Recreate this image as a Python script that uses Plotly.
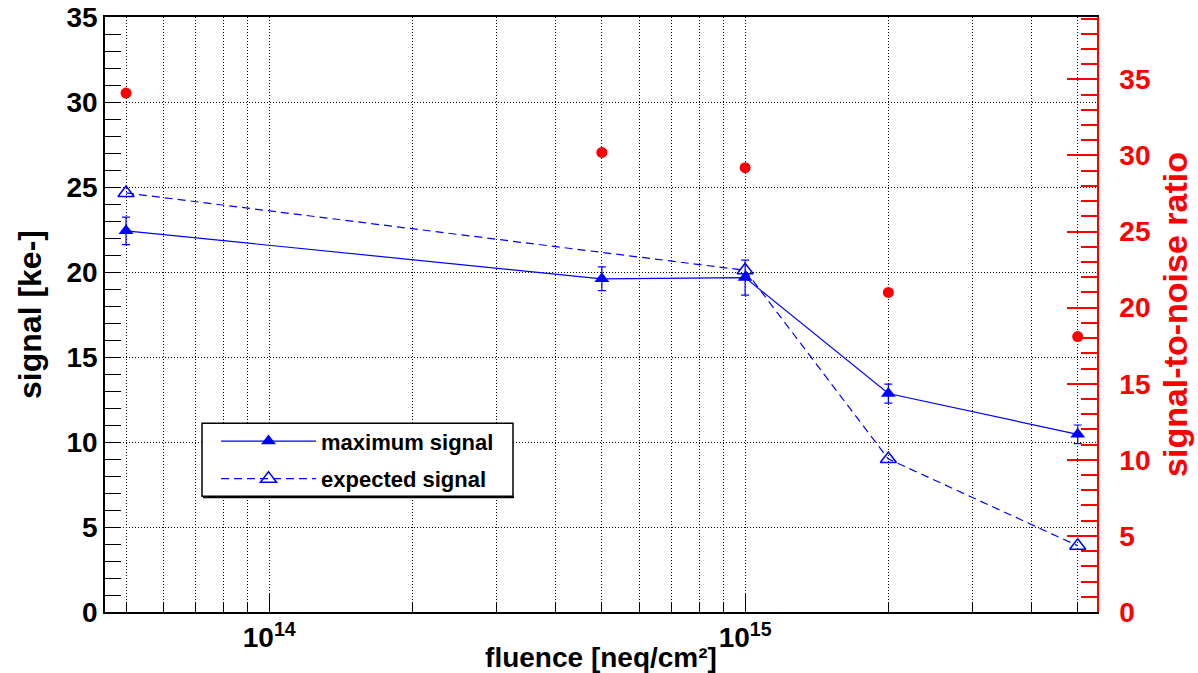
import plotly.graph_objects as go

# ---- data ----
fluence = [5e13, 5e14, 1e15, 2e15, 5e15]
max_signal = [22.42, 19.6, 19.67, 12.85, 10.45]
max_signal_err = [0.81, 0.7, 1.03, 0.56, 0.55]
exp_fluence = [5e13, 1e15, 2e15, 5e15]
exp_signal = [24.65, 20.1, 9.0, 3.9]
snr = [34.1, 30.2, 29.2, 21.0, 18.1]

x_major = [1e14, 1e15]
x_major_text = ["10<sup>14</sup>", "10<sup>15</sup>"]
x_minor = [5e13, 6e13, 7e13, 8e13, 9e13,
           2e14, 3e14, 4e14, 5e14, 6e14, 7e14, 8e14, 9e14,
           2e15, 3e15, 4e15, 5e15]
y_ticks = [0, 5, 10, 15, 20, 25, 30, 35]
y2_ticks = [0, 5, 10, 15, 20, 25, 30, 35]

FONT = "Liberation Sans, Arial, Helvetica, sans-serif"
BLUE = "#0000ff"
RED = "#ff0000"

fig = go.Figure()

fig.add_trace(go.Scatter(
    x=fluence, y=max_signal, name="maximum signal", mode="lines+markers",
    line=dict(color=BLUE, width=1.2),
    marker=dict(symbol="triangle-up", size=13, color=BLUE),
    error_y=dict(type="data", array=max_signal_err, color=BLUE, thickness=1.2, width=4),
    legendgroup="a",
))
fig.add_trace(go.Scatter(
    x=exp_fluence, y=exp_signal, name="expected signal", mode="lines+markers",
    line=dict(color=BLUE, width=1.2, dash="8px,5px"),
    marker=dict(symbol="triangle-up-open", size=14, color=BLUE, line=dict(width=1.5, color=BLUE)),
    legendgroup="b",
))
fig.add_trace(go.Scatter(
    x=fluence, y=snr, name="signal-to-noise ratio", mode="markers",
    marker=dict(symbol="circle", size=11, color=RED),
    yaxis="y2", showlegend=False,
))

grid = dict(gridcolor="black", gridwidth=1, griddash="1px,2px")

fig.update_layout(
    width=1198, height=673,
    margin=dict(l=105, r=101, t=17, b=61, autoexpand=False),
    paper_bgcolor="white", plot_bgcolor="white",
    font=dict(family=FONT, color="black"),
    xaxis=dict(
        type="log", range=[13.6548, 15.7395],
        tickmode="array", tickvals=x_major, ticktext=x_major_text,
        ticks="inside", ticklen=18, tickwidth=1, tickcolor="black",
        showline=True, linecolor="black", linewidth=1.5, mirror=True,
        showgrid=True, **grid,
        minor=dict(tickmode="array", tickvals=x_minor, ticks="inside", ticklen=10,
                   tickcolor="black", tickwidth=1, showgrid=True, **grid),
        tickfont=dict(size=28, weight="bold", family=FONT),
        ticklabeloverflow="allow",
        title=dict(text="fluence [neq/cm²]", font=dict(size=28, weight="bold", family=FONT), standoff=0),
        zeroline=False, automargin=False,
    ),
    yaxis=dict(
        range=[0, 35], tickmode="array", tickvals=y_ticks,
        ticks="inside", ticklen=16, tickwidth=1, tickcolor="black",
        showline=True, linecolor="black", linewidth=1.5,
        showgrid=True, **grid,
        minor=dict(dtick=1, ticks="inside", ticklen=16, tickcolor="black", tickwidth=1, showgrid=False),
        tickfont=dict(size=28, weight="bold", family=FONT),
        ticklabelstandoff=0, ticklabeloverflow="allow",
        title=dict(text="signal [ke-]", font=dict(size=32, weight="bold", family=FONT), standoff=15),
        zeroline=False, automargin=False,
    ),
    yaxis2=dict(
        overlaying="y", side="right", range=[0, 39.1],
        tickmode="array", tickvals=y2_ticks,
        ticks="inside", ticklen=30, tickwidth=1.5, tickcolor=RED,
        showline=True, linecolor=RED, linewidth=1.5,
        showgrid=False, zeroline=False,
        minor=dict(dtick=1, ticks="inside", ticklen=16, tickcolor=RED, tickwidth=1.5, showgrid=False),
        tickfont=dict(size=28, weight="bold", family=FONT, color=RED),
        ticklabelstandoff=15, ticklabeloverflow="allow",
        title=dict(text="signal-to-noise ratio", font=dict(size=34, weight="bold", family=FONT, color=RED), standoff=14),
        automargin=False,
    ),
    showlegend=True,
    legend=dict(
        x=(216 - 105) / 992, y=(611.7 - 420) / 595, xanchor="left", yanchor="top",
        bgcolor="rgba(0,0,0,0)", borderwidth=0,
        font=dict(size=22, weight="bold", family=FONT),
        itemwidth=95, tracegroupgap=6,
    ),
    shapes=[
        dict(type="rect", xref="paper", yref="paper",
             x0=(202 - 105) / 992, x1=(513 - 105) / 992,
             y0=(611.7 - 496) / 595, y1=(611.7 - 423) / 595,
             fillcolor="white", line=dict(color="black", width=1.5), layer="above"),
        dict(type="line", xref="paper", yref="paper",
             x0=(203 - 105) / 992, x1=(514 - 105) / 992,
             y0=(611.7 - 497) / 595, y1=(611.7 - 497) / 595,
             line=dict(color="black", width=2), layer="above"),
    ],
)

# remove the default 8px page margin so the 1198x673 figure fills the window exactly
fig.write_html("out.html", config={"displayModeBar": False},
               post_script="document.body.style.margin='0';")
